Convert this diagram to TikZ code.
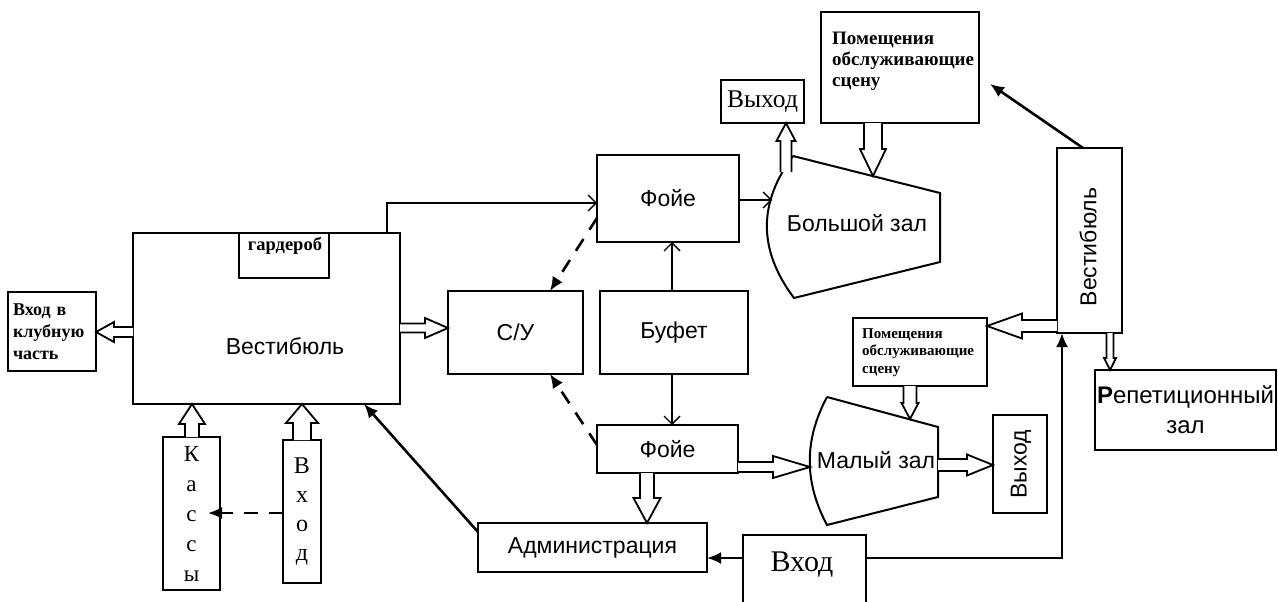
\documentclass[tikz,border=0pt]{standalone}
\usepackage{fontspec}
\setmainfont{Liberation Serif}
\setsansfont{Liberation Sans}
\usetikzlibrary{arrows.meta,calc}
\newcommand\hollowarr[5]{%
  \path ($(#2)!#5pt!(#1)$) coordinate (hb);
  \draw[hollow] ($(#1)!#3pt!90:(#2)$) -- ($(hb)!#3pt!90:(#2)$) -- ($(hb)!#4pt!90:(#2)$) -- (#2) -- ($(hb)!#4pt!-90:(#2)$) -- ($(hb)!#3pt!-90:(#2)$) -- ($(#1)!#3pt!-90:(#2)$);}
\begin{document}
\begin{tikzpicture}[x=1pt,y=-1pt,
  box/.style={draw, line width=2pt, inner sep=0pt, outer sep=0pt, font=\sffamily\fontsize{23}{27}\selectfont},
  lbl/.style={inner sep=0pt, font=\sffamily\fontsize{23}{27}\selectfont},
  bser/.style={inner sep=0pt, align=left, font=\rmfamily\bfseries\fontsize{19}{21}\selectfont},
  thinarr/.style={line width=1.4pt, -{Straight Barb[length=8pt,width=16pt]}},
  thickarr/.style={line width=2.6pt, -{Latex[length=14pt,width=12pt]}},
  dsh/.style={line width=2.6pt, dash pattern=on 14pt off 11pt, -{Latex[length=14pt,width=12pt]}},
  hollow/.style={line width=1.8pt, fill=white, line join=miter},
  hall/.style={line width=2pt}]
\fill[white] (0,0) rectangle (1278,602);
\useasboundingbox (0,0) rectangle (1278,602);

% left part
\node[box, minimum width=267, minimum height=171] (vest) at (266.5,318.5) {};
\node[lbl] (vestt) at (285,346) {Вестибюль};
\node[box, minimum width=90, minimum height=45] (gard) at (284,255.5) {};
\node[inner sep=0pt, font=\rmfamily\bfseries\fontsize{18.5}{20}\selectfont] (gardt) at (285,246) {гардероб};
\node[box, minimum width=88, minimum height=79, text width=78, align=left, font=\rmfamily\bfseries\fontsize{18}{22}\selectfont] (club) at (52,331.5) {Вход в\\клубную\\часть};
\node[box, minimum width=57, minimum height=153, align=center, font=\rmfamily\fontsize{23}{30}\selectfont] (kassy) at (191.5,513.5) {К\\а\\с\\с\\ы};
\node[box, minimum width=38, minimum height=143, align=center, font=\rmfamily\fontsize{24}{29}\selectfont] (vhod1) at (302,511.5) {В\\х\\о\\д};

% middle
\node[box, minimum width=135, minimum height=83] (su) at (515.5,332.5) {С/У};
\node[box, minimum width=148, minimum height=83] (buf) at (674,332.5) {Буфет};
\node[box, minimum width=142, minimum height=87] (foy1) at (668,198.5) {Фойе};
\node[box, minimum width=141, minimum height=48] (foy2) at (667.5,449) {Фойе};
\node[box, minimum width=229, minimum height=49] (adm) at (592.5,547.5) {Администрация};
\node[box, minimum width=123, minimum height=73] (vhod2) at (804.5,571.5) {};
\node[inner sep=0pt, font=\rmfamily\fontsize{30}{34}\selectfont] (vhod2t) at (802,565) {Вход};

% right part
\node[box, minimum width=83, minimum height=43, font=\rmfamily\fontsize{25.5}{28}\selectfont] (vyh1) at (762.5,101.5) {Выход};
\node[box, minimum width=158, minimum height=111] (pom1) at (900,67.5) {};
\node[bser, anchor=north west] (pom1t) at (832,32) {Помещения\\обслуживающие\\сцену};
\node[box, minimum width=65, minimum height=185] (vest2) at (1089.5,240.5) {};
\node[lbl, rotate=90] (vest2t) at (1088,247) {Вестибюль};
\node[box, minimum width=134, minimum height=68] (pom2) at (920,352) {};
\node[bser, anchor=north west, font=\rmfamily\bfseries\fontsize{15}{17.5}\selectfont] (pom2t) at (862,328) {Помещения\\обслуживающие\\сцену};
\node[box, minimum width=54, minimum height=98] (vyh2) at (1020,464) {};
\node[lbl, rotate=90] (vyh2t) at (1021,464) {Выход};
\node[box, minimum width=181, minimum height=80, align=center, font=\sffamily\fontsize{24}{30}\selectfont] (rep) at (1185.5,410) {\textbf{Р}епетиционный\\зал};

% halls
\coordinate (h1a) at (793,156); \coordinate (h1b) at (940,193);
\coordinate (h1c) at (940,262); \coordinate (h1d) at (794,298);
\draw[hall] (h1a) -- (h1b) -- (h1c) -- (h1d) .. controls (758,250) and (758,203) .. (h1a);
\node[lbl] (hall1) at (857,223) {Большой зал};
\coordinate (h2a) at (827,397); \coordinate (h2b) at (938,427);
\coordinate (h2c) at (938,497); \coordinate (h2d) at (827,525);
\draw[hall] (h2a) -- (h2b) -- (h2c) -- (h2d) .. controls (804,482) and (804,440) .. (h2a);
\node[lbl] (hall2) at (876,460) {Малый зал};

% thin arrows
\coordinate (f1in) at (foy1.west |- 0,203);
\draw[thinarr] (vest.north -| 387,0) |- (f1in);
\coordinate (h1in) at (772,200);
\draw[thinarr] (foy1.east |- h1in) -- (h1in);
\draw[thinarr] (buf.north -| 672,0) -- (foy1.south -| 672,0);
\draw[thinarr] (buf.south -| 672,0) -- (foy2.north -| 672,0);

% thick arrows
\coordinate (p1tip) at (990,84);
\draw[thickarr] (vest2.north -| 1083,0) -- (p1tip);
\draw[thickarr] (vhod2.west |- 0,558) -- (adm.east |- 0,558);
\draw[thickarr] (vhod2.east |- 0,558) -| (vest2.south -| 1062,0);
\draw[thickarr] (adm.west |- 0,532) -- (vest.south -| 364,0);

% dashed arrows
\draw[dsh] (foy1.west |- 0,218) -- (su.north -| 550,0);
\draw[dsh] (foy2.west |- 0,445) -- (su.south -| 550,0);
\coordinate (kin) at (208,513);
\draw[dsh] (vhod1.west |- kin) -- (kin);

% hollow arrows
\coordinate (a1s) at (vest.west |- 0,332); \coordinate (a1e) at (club.east |- 0,332);
\hollowarr{a1s}{a1e}{5}{10}{18}
\coordinate (a2s) at (vest.east |- 0,328); \coordinate (a2e) at (su.west |- 0,328);
\hollowarr{a2s}{a2e}{4.5}{10}{23}
\coordinate (a3s) at (kassy.north -| 192,0); \coordinate (a3e) at (vest.south -| 192,0);
\hollowarr{a3s}{a3e}{7}{13}{20}
\coordinate (a4s) at (vhod1.north -| 302,0); \coordinate (a4e) at (vest.south -| 302,0);
\hollowarr{a4s}{a4e}{9}{16}{19}
\coordinate (a5s) at (pom1.south -| 873,0); \coordinate (a5e) at (873,176);
\hollowarr{a5s}{a5e}{9}{13}{27}
\coordinate (a6s) at (786,172); \coordinate (a6e) at (vyh1.south -| 786,0);
\hollowarr{a6s}{a6e}{5.5}{9.5}{18}
\coordinate (a7s) at (foy2.east |- 0,467); \coordinate (a7e) at (810,467);
\hollowarr{a7s}{a7e}{5}{11}{37}
\coordinate (a8s) at (938,465); \coordinate (a8e) at (vyh2.west |- 0,465);
\hollowarr{a8s}{a8e}{6}{10.5}{26}
\coordinate (a9s) at (foy2.south -| 647,0); \coordinate (a9e) at (adm.north -| 647,0);
\hollowarr{a9s}{a9e}{7}{13.5}{25}
\coordinate (a10s) at (pom2.south -| 910,0); \coordinate (a10e) at (910,419);
\hollowarr{a10s}{a10e}{6.5}{8.5}{16}
\coordinate (a11s) at (vest2.west |- 0,326); \coordinate (a11e) at (pom2.east |- 0,326);
\hollowarr{a11s}{a11e}{6}{12.5}{35}
\coordinate (a12s) at (vest2.south -| 1110,0); \coordinate (a12e) at (rep.north -| 1110,0);
\hollowarr{a12s}{a12e}{3.5}{6}{12}
\end{tikzpicture}
\end{document}
